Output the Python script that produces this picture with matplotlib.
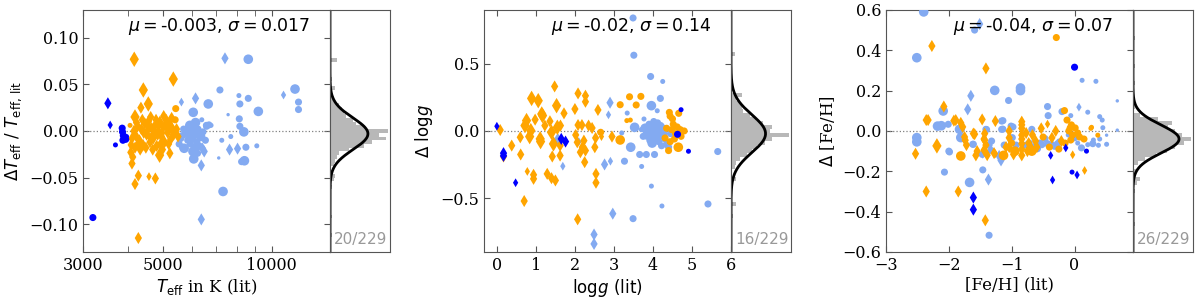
import numpy as np
import matplotlib
matplotlib.use("Agg")
import matplotlib.pyplot as plt
from matplotlib.ticker import FixedLocator, LogLocator, NullFormatter, FuncFormatter

plt.rcParams['font.family'] = 'DejaVu Serif'
plt.rcParams['mathtext.fontset'] = 'dejavusans'
plt.rcParams['font.size'] = 11

N_STARS = 229

# ---------------- Teff panel: (Teff_lit, dTeff/Teff_lit, size class) ----------------
TEFF_LIGHT_CIRC = [
    (8610, 0.077, 4), (7185, 0.044, 3), (11600, 0.045, 4), (11860, 0.031, 3), (11860, 0.023, 3),
    (6670, 0.029, 4), (8110, 0.038, 2), (8610, 0.035, 3), (8160, 0.029, 3), (9180, 0.021, 4),
    (7570, 0.0175, 1), (6060, 0.020, 4), (8130, 0.013, 3), (8160, 0.005, 3), (8370, -0.001, 4),
    (7700, -0.006, 2), (6790, 0.006, 2), (6600, 0.005, 3), (7270, -0.010, 2), (8480, -0.0175, 3),
    (9090, -0.016, 2), (7130, -0.029, 1), (8400, -0.032, 4), (8250, -0.033, 3), (6080, -0.030, 4),
    (6050, -0.022, 4), (7330, -0.065, 4), (5660, -0.0175, 3), (5930, 0.006, 4), (6150, 0.009, 4),
    (6590, 0.006, 3), (6700, 0.0065, 3), (5540, -0.014, 3), (5720, -0.0186, 4), (6080, -0.029, 3),
    (5800, 0.000, 4), (5900, -0.004, 4), (6000, -0.008, 4), (6100, -0.003, 4), (6200, -0.012, 3),
    (6250, 0.002, 3), (6350, -0.006, 4), (6300, -0.016, 3), (5650, -0.005, 3), (5700, 0.002, 3),
    (6450, -0.001, 3), (6150, -0.018, 4), (5850, -0.010, 3), (6400, 0.012, 2), (6550, -0.010, 3),
    (6000, 0.004, 4), (5600, -0.008, 3), (6230, -0.024, 3), (5950, -0.014, 3),
]
TEFF_LIGHT_DIAM = [
    (7420, 0.078, 3), (10780, 0.0386, 2), (6150, 0.035, 3), (5620, 0.031, 2), (7640, -0.020, 3),
    (8040, -0.019, 3), (6430, -0.019, 3), (6380, -0.037, 3), (6380, -0.095, 3), (6500, -0.022, 3),
]
TEFF_ORANGE_DIAM = [
    (4160, 0.077, 4), (5337, 0.0557, 4), (4408, 0.044, 4), (4341, 0.025, 3), (4550, 0.029, 4),
    (4180, 0.015, 4), (4070, -0.023, 3), (4100, -0.035, 3), (4890, -0.026, 4), (5220, -0.024, 3),
    (4270, -0.048, 3), (4180, -0.057, 3), (4570, -0.049, 2), (4760, -0.051, 3), (4270, -0.115, 3),
    (4120, -0.028, 3), (4080, -0.015, 3),
    (4150, 0.000, 3), (4200, -0.005, 3), (4250, 0.005, 3), (4300, -0.010, 3), (4350, 0.002, 3),
    (4400, -0.015, 3), (4450, 0.008, 3), (4500, -0.004, 3), (4550, 0.010, 3), (4600, -0.012, 3),
    (4650, 0.003, 3), (4700, -0.008, 3), (4750, 0.006, 3), (4800, -0.016, 3), (4850, 0.000, 3),
    (4900, 0.010, 3), (4950, -0.006, 3), (5000, 0.004, 3), (5050, -0.012, 3), (5100, 0.012, 3),
    (5150, -0.002, 3), (5200, 0.008, 3), (5250, -0.009, 3), (5300, 0.003, 3), (5350, -0.004, 3),
    (5450, 0.002, 3), (5500, -0.006, 3), (4100, -0.008, 3), (4180, -0.018, 3), (4220, 0.009, 3),
    (4320, -0.020, 3), (4380, 0.012, 3), (4480, -0.018, 3), (4520, 0.000, 3), (4620, 0.015, 3),
    (4680, -0.020, 3), (4780, 0.012, 3), (4830, -0.004, 3), (4920, -0.014, 3), (5020, 0.016, 3),
    (5120, 0.004, 3), (5180, -0.014, 3), (5280, 0.014, 3), (4420, -0.002, 3), (4720, -0.002, 3),
    (4980, -0.020, 3), (5060, 0.006, 3), (4260, -0.014, 3), (4560, 0.005, 3), (4860, 0.007, 3),
]
TEFF_ORANGE_CIRC = [
    (4050, 0.006, 2), (5420, 0.024, 3), (5400, 0.012, 3), (4950, -0.002, 3), (5300, 0.001, 3),
    (4600, -0.006, 3), (5150, 0.008, 3),
]
TEFF_BLUE_CIRC = [
    (3195, -0.093, 3), (3690, -0.015, 2), (3852, 0.003, 3), (3860, -0.001, 3), (3880, -0.005, 3),
    (3900, -0.008, 3), (3940, -0.009, 3), (3870, -0.010, 3), (3960, -0.006, 2),
]
TEFF_BLUE_DIAM = [(3516, 0.0297, 3), (3568, 0.0064, 2)]

# ---------------- logg panel: (logg_lit, dlogg, size class) ----------------
LOGG_LIGHT_CIRC = [
    (3.49, 0.84, 3), (3.51, 0.563, 3), (3.94, 0.405, 3), (4.25, 0.368, 2), (3.34, 0.133, 2),
    (4.19, 0.242, 3), (3.96, 0.188, 4), (4.11, 0.15, 2), (3.53, 0.027, 4), (3.77, 0.089, 2),
    (3.43, -0.121, 4), (3.66, -0.175, 3), (3.83, -0.175, 3), (4.04, -0.175, 3), (3.27, -0.225, 3),
    (3.71, -0.264, 2), (3.96, -0.41, 2), (4.23, -0.558, 2), (5.41, -0.543, 3), (5.66, -0.153, 3),
    (3.49, -0.652, 3), (3.20, -0.015, 2),
    (3.80, 0.02, 4), (3.85, -0.03, 4), (3.90, 0.05, 3), (3.95, -0.01, 4), (4.00, 0.03, 4),
    (4.05, -0.05, 4), (4.10, 0.00, 4), (4.15, -0.08, 3), (4.20, 0.04, 3), (4.25, -0.02, 4),
    (4.30, -0.06, 3), (3.92, -0.07, 3), (4.02, 0.07, 3), (4.12, 0.06, 3), (3.75, -0.04, 3),
    (4.35, -0.10, 3), (4.22, -0.11, 3), (3.98, -0.09, 4), (4.08, 0.02, 4), (3.88, 0.01, 3),
    (4.28, 0.02, 3), (4.18, -0.03, 4), (4.40, -0.12, 3), (3.70, 0.01, 2), (4.45, -0.02, 3),
]
LOGG_LIGHT_DIAM = [
    (2.90, 0.21, 3), (2.86, 0.12, 2), (2.76, -0.249, 3), (2.91, -0.225, 2), (1.69, -0.262, 2),
    (1.56, -0.059, 3), (2.49, -0.77, 3), (2.49, -0.84, 3), (2.97, -0.615, 3), (2.10, -0.079, 2),
]
LOGG_ORANGE_DIAM = [
    (1.48, 0.331, 3), (0.89, 0.242, 4), (1.06, 0.225, 4), (2.08, 0.279, 3), (2.27, 0.262, 3),
    (2.27, 0.217, 3), (1.53, 0.188, 4), (1.15, 0.126, 4), (1.17, 0.114, 4), (0.98, 0.084, 3),
    (0.76, 0.077, 4), (0.72, 0.04, 4), (1.72, 0.131, 3), (2.00, 0.163, 3), (2.59, 0.156, 3),
    (1.36, 0.072, 3), (1.23, 0.04, 3), (1.55, 0.027, 4), (1.63, 0.04, 3), (1.40, -0.01, 4),
    (0.87, 0.002, 4), (0.60, -0.047, 3), (0.38, -0.109, 3), (0.085, 0.007, 3), (0.84, -0.042, 4),
    (1.11, -0.059, 4), (1.12, -0.079, 4), (1.45, -0.096, 4), (1.62, -0.109, 3), (1.62, -0.183, 3),
    (1.42, -0.19, 3), (0.61, -0.175, 3), (0.78, -0.301, 2), (0.94, -0.326, 3), (0.94, -0.356, 3),
    (1.29, -0.319, 3), (1.40, -0.351, 3), (1.50, -0.368, 3), (0.70, -0.521, 3), (2.08, 0.044, 3),
    (2.18, 0.044, 3), (2.35, 0.04, 3), (2.44, 0.022, 3), (2.53, -0.052, 3), (2.51, -0.121, 3),
    (2.02, -0.03, 3), (2.06, -0.084, 3), (2.19, -0.121, 3), (2.23, -0.072, 3), (2.27, -0.146, 3),
    (2.14, -0.158, 3), (2.25, -0.232, 3), (2.54, -0.319, 3), (2.54, -0.385, 3), (2.95, -0.042, 3),
    (2.07, -0.657, 3), (2.68, -0.042, 2), (0.17, -0.19, 3),
]
LOGG_ORANGE_CIRC = [
    (3.16, 0.195, 3), (3.40, 0.254, 3), (3.69, 0.257, 3), (3.57, 0.193, 3), (3.33, 0.077, 2),
    (3.42, 0.081, 2), (3.16, -0.067, 4), (4.42, 0.138, 3), (4.44, 0.11, 3), (4.50, 0.09, 3),
    (4.52, 0.05, 3), (4.35, 0.02, 3), (4.48, 0.01, 3), (4.62, 0.03, 3), (4.70, 0.01, 3),
    (4.80, 0.00, 3), (4.31, -0.052, 3), (4.44, -0.08, 3), (4.55, -0.06, 3), (4.65, -0.121, 4),
    (4.40, -0.146, 3), (4.66, 0.131, 3), (2.66, -0.01, 3), (4.58, -0.02, 3), (4.72, -0.04, 3),
]
LOGG_BLUE_CIRC = [(4.72, 0.158, 2), (4.63, -0.025, 3), (4.91, -0.151, 2)]
LOGG_BLUE_DIAM = [
    (0.0, 0.035, 2), (0.17, -0.165, 3), (0.17, -0.185, 3), (0.48, -0.385, 2), (1.65, -0.059, 3),
    (1.76, -0.079, 3),
]

# ---------------- [Fe/H] panel: (feh_lit, dfeh, size class) ----------------
FEH_LIGHT_CIRC = [
    (-2.40, 0.59, 4), (-1.59, 0.50, 3), (-2.51, 0.363, 4), (-1.27, 0.201, 4), (-0.86, 0.213, 4),
    (-0.86, 0.200, 4), (-1.05, 0.151, 3), (-2.09, 0.099, 4), (-2.18, 0.024, 4), (-2.12, 0.026, 4),
    (-2.01, 0.033, 3), (-2.51, -0.033, 4), (-2.51, -0.054, 4), (-2.0, -0.10, 3), (-2.07, -0.204, 3),
    (-1.83, 0.008, 4), (-1.81, -0.033, 4), (-1.62, -0.066, 3), (-1.47, -0.116, 3), (-1.41, 0.008, 3),
    (-1.46, -0.193, 3), (-1.67, -0.255, 4), (-1.36, -0.517, 3), (-1.16, 0.049, 3), (-1.16, 0.008, 3),
    (-1.01, 0.024, 3), (-0.99, -0.033, 3), (-1.32, -0.05, 3), (-1.36, -0.07, 3), (-0.68, 0.008, 3),
    (-0.59, -0.088, 3), (-0.47, -0.038, 3), (-0.43, 0.121, 3), (-0.42, 0.076, 3), (-0.43, -0.063, 3),
    (-0.36, -0.068, 3), (-0.32, -0.076, 3), (-0.27, -0.063, 3), (-0.20, 0.096, 3), (-0.06, 0.076, 2),
    (0.12, 0.251, 2), (0.21, 0.093, 2), (0.34, 0.246, 2), (0.0, -0.034, 3), (0.11, -0.084, 3),
    (0.21, -0.068, 2), (0.29, -0.063, 3), (0.38, -0.071, 2), (0.40, 0.071, 2), (0.44, 0.054, 2),
    (0.45, 0.016, 2), (0.51, -0.066, 2), (0.68, 0.149, 1), (0.68, 0.004, 1), (0.51, -0.021, 1),
    (-0.52, -0.068, 3), (-0.77, -0.07, 3), (-0.72, -0.06, 3), (-0.93, -0.07, 3), (-1.14, 0.051, 3),
    (-1.14, 0.009, 3), (-1.80, 0.009, 3), (-1.40, 0.007, 3), (-1.99, -0.104, 3), (-1.61, -0.066, 3),
    (-1.33, -0.096, 3), (-1.12, -0.07, 3), (-0.98, 0.02, 3), (-0.70, -0.08, 3), (-0.55, -0.06, 3),
    (-0.62, -0.075, 3), (-0.25, -0.05, 2), (0.30, -0.045, 2), (0.40, -0.04, 2), (0.05, -0.06, 2),
    (-0.10, -0.02, 2),
]
FEH_LIGHT_DIAM = [
    (-1.51, 0.53, 3), (-1.65, 0.174, 3), (-1.70, 0.107, 3), (-1.37, -0.241, 3), (-1.20, -0.124, 3),
    (0.07, 0.118, 2), (-1.46, -0.116, 2), (-1.17, -0.146, 3),
]
FEH_ORANGE_DIAM = [
    (-2.27, 0.421, 3), (-1.41, 0.31, 3), (-2.36, 0.054, 3), (-2.53, -0.113, 3), (-2.36, -0.30, 3),
    (-2.19, -0.074, 4), (-2.08, 0.121, 3), (-1.92, 0.051, 3), (-1.81, 0.04, 3), (-1.78, 0.02, 3),
    (-1.74, -0.046, 3), (-1.61, -0.013, 3), (-1.57, -0.121, 3), (-1.47, 0.057, 3), (-1.44, -0.04, 3),
    (-1.41, -0.07, 3), (-1.44, -0.095, 3), (-1.39, -0.12, 3), (-1.26, 0.049, 3), (-1.28, -0.11, 3),
    (-1.04, 0.0, 3), (-1.09, -0.08, 3), (-1.04, -0.08, 3), (-0.97, -0.116, 3), (-0.84, 0.046, 3),
    (-0.84, 0.013, 3), (-0.84, -0.021, 3), (-0.84, -0.063, 3), (-0.84, -0.121, 3), (-0.77, -0.01, 3),
    (-0.73, -0.06, 3), (-0.75, -0.10, 3), (-0.70, -0.08, 3), (-0.67, -0.02, 3), (-0.62, -0.05, 3),
    (-0.60, -0.08, 3), (-0.53, 0.013, 3), (-0.43, 0.034, 2), (-0.36, -0.034, 3), (-0.30, 0.0, 3),
    (-0.21, -0.05, 3), (-0.03, -0.118, 2), (0.16, -0.196, 2), (-1.42, -0.443, 3), (-1.85, -0.30, 3),
    (-1.89, 0.054, 3), (-2.33, 0.054, 3), (-1.59, -0.016, 3), (-1.43, -0.013, 3), (-1.43, -0.046, 3),
    (-1.26, -0.113, 2), (-1.04, -0.034, 3), (-1.75, -0.03, 3), (-1.72, -0.07, 3), (-1.55, -0.10, 3),
    (-0.84, 0.03, 3), (-0.84, -0.04, 3), (-0.84, -0.09, 3),
]
FEH_ORANGE_CIRC = [
    (-0.29, 0.463, 3), (-1.81, -0.124, 4), (-1.13, -0.121, 4), (-0.16, 0.101, 3), (-0.12, 0.054, 3),
    (-0.09, 0.0, 3), (-0.05, 0.03, 3), (-0.07, 0.015, 3), (-0.03, -0.02, 3), (-0.06, -0.045, 3),
    (0.01, 0.015, 3), (0.05, -0.01, 3), (0.08, -0.03, 3), (0.26, 0.013, 2), (0.37, -0.021, 2),
    (0.27, 0.018, 2), (-0.68, -0.10, 4), (-0.95, -0.10, 4), (-0.50, -0.03, 3), (-0.25, -0.09, 3),
    (-0.40, -0.08, 3), (-1.00, -0.06, 3), (0.15, -0.04, 3), (-0.15, -0.06, 3),
]
FEH_BLUE_CIRC = [(0.0, 0.316, 3), (-0.04, -0.204, 2), (0.19, -0.10, 2)]
FEH_BLUE_DIAM = [
    (-0.38, -0.121, 2), (-0.14, -0.084, 2), (-0.35, -0.243, 2), (0.04, -0.218, 2), (-1.61, -0.33, 3),
    (-1.61, -0.39, 3),
]

# ---------------- side histograms (bin centre, count) ----------------
HIST_TEFF_BIN = 0.004
HIST_TEFF_C = [0.076, 0.056, 0.046, 0.040, 0.036, 0.032, 0.028, 0.024, 0.020, 0.016, 0.012, 0.008,
               0.004, 0.000, -0.004, -0.008, -0.012, -0.016, -0.020, -0.024, -0.028, -0.032,
               -0.036, -0.044, -0.048, -0.052, -0.060, -0.092, -0.112]
HIST_TEFF_N = [4, 1, 3, 1, 2, 2, 5, 7, 8, 9, 13, 15, 20, 33, 28, 32, 24, 19, 11, 5, 4, 3, 2, 1, 3, 2,
               1, 1, 1]
HIST_LOGG_BIN = 0.03
HIST_LOGG_C = [0.57, 0.27, 0.24, 0.21, 0.18, 0.15, 0.12, 0.09, 0.06, 0.03, 0.00, -0.03, -0.06,
               -0.09, -0.12, -0.15, -0.18, -0.21, -0.24, -0.27, -0.36, -0.54, -0.63]
HIST_LOGG_N = [2, 6, 3, 5, 6, 7, 11, 14, 18, 23, 22, 33, 23, 19, 15, 12, 9, 5, 3, 2, 3, 3, 1]
HIST_FEH_BIN = 0.02
HIST_FEH_C = [0.46, 0.32, 0.24, 0.12, 0.08, 0.06, 0.04, 0.02, 0.00, -0.02, -0.04, -0.06, -0.08,
              -0.10, -0.12, -0.14, -0.16, -0.20, -0.24, -0.26, -0.30, -0.46]
HIST_FEH_N = [1, 1, 1, 1, 4, 14, 22, 20, 24, 28, 33, 29, 24, 19, 13, 7, 3, 2, 4, 2, 1, 1]

# fit statistics and number of stars outside the plotted range
STATS = [(-0.003, 0.017, 20, "-0.003", "0.017"),
         (-0.02, 0.14, 16, "-0.02", "0.14"),
         (-0.04, 0.07, 26, "-0.04", "0.07")]

LIGHT = '#83aaf1'
ORANGE = '#ffa500'
BLUE = '#0000ff'
SPINE = '#555555'
CIRC_SIZE = {1: 6, 2: 13, 3: 26, 4: 48}
DIAM_SIZE = {1: 10, 2: 20, 3: 38, 4: 62}

fig = plt.figure(figsize=(12, 3), dpi=100)
BOTTOM, HEIGHT = 0.16, 0.807
MAIN_W, HIST_W = 247 / 1200, 60 / 1200
LEFTS = [83 / 1200, 484 / 1200, 886 / 1200]


def scatter_groups(ax, groups):
    for pts, color, marker in groups:
        a = np.array(pts, dtype=float)
        sizes = [(CIRC_SIZE if marker == 'o' else DIAM_SIZE)[int(k)] for k in a[:, 2]]
        ax.scatter(a[:, 0], a[:, 1], s=sizes, c=color, marker=marker, linewidths=0, zorder=3)


def style(ax):
    for sp in ax.spines.values():
        sp.set_color(SPINE)
    ax.tick_params(which='both', direction='in', top=True, right=True, length=4,
                   color=SPINE, labelsize=11.5)


def panel(i, groups, xlim, ylim, xlabel, ylabel, xticks, yticks, hc, hn, bw, logx=False):
    mu, sigma, n_out, mu_s, sig_s = STATS[i]
    ax = fig.add_axes([LEFTS[i], BOTTOM, MAIN_W, HEIGHT])
    if logx:
        ax.set_xscale('log')
    scatter_groups(ax, groups)
    ax.axhline(0, color='gray', lw=0.9, ls=':', zorder=2)
    ax.set_xlim(*xlim)
    ax.set_ylim(*ylim)
    ax.set_yticks(yticks)
    if logx:
        ax.xaxis.set_major_locator(FixedLocator(xticks))
        ax.xaxis.set_major_formatter(FuncFormatter(lambda v, _: f"{v:.0f}"))
        ax.xaxis.set_minor_locator(LogLocator(subs=np.arange(2, 10)))
        ax.xaxis.set_minor_formatter(NullFormatter())
    else:
        ax.set_xticks(xticks)
    ax.set_xlabel(xlabel, fontsize=12, labelpad=2)
    ax.set_ylabel(ylabel, fontsize=12, labelpad=4)
    style(ax)
    ax.text(0.92, 0.93, r"$\mu=$" + mu_s + ", " + r"$\sigma=$" + sig_s, transform=ax.transAxes,
            ha='right', va='center', fontsize=12.5, family='DejaVu Sans')

    hax = fig.add_axes([LEFTS[i] + MAIN_W, BOTTOM, HIST_W, HEIGHT])
    hax.barh(hc, hn, height=bw, color='#b8b8b8', linewidth=0)
    yy = np.linspace(ylim[0], ylim[1], 400)
    gauss = N_STARS * bw * np.exp(-0.5 * ((yy - mu) / sigma) ** 2) / (sigma * np.sqrt(2 * np.pi))
    hax.plot(gauss, yy, color='black', lw=2)
    hax.set_xlim(0, 34)
    hax.set_ylim(*ylim)
    hax.set_xticks([])
    hax.set_yticks([])
    for sp in hax.spines.values():
        sp.set_color(SPINE)
    hax.text(0.96, 0.02, f"{n_out}/{N_STARS}", transform=hax.transAxes, ha='right', va='bottom',
             color='#999999', fontsize=11, family='DejaVu Sans')


panel(0,
      [(TEFF_LIGHT_CIRC, LIGHT, 'o'), (TEFF_LIGHT_DIAM, LIGHT, 'd'),
       (TEFF_ORANGE_DIAM, ORANGE, 'd'), (TEFF_ORANGE_CIRC, ORANGE, 'o'),
       (TEFF_BLUE_CIRC, BLUE, 'o'), (TEFF_BLUE_DIAM, BLUE, 'd')],
      (3000, 14500), (-0.13, 0.13),
      r"$T_\mathrm{eff}$ in K (lit)", r"$\Delta T_\mathrm{eff}\ /\ T_\mathrm{eff,\,lit}$",
      [3000, 5000, 10000], [-0.10, -0.05, 0.0, 0.05, 0.10],
      HIST_TEFF_C, HIST_TEFF_N, HIST_TEFF_BIN, logx=True)

panel(1,
      [(LOGG_LIGHT_CIRC, LIGHT, 'o'), (LOGG_LIGHT_DIAM, LIGHT, 'd'),
       (LOGG_ORANGE_DIAM, ORANGE, 'd'), (LOGG_ORANGE_CIRC, ORANGE, 'o'),
       (LOGG_BLUE_CIRC, BLUE, 'o'), (LOGG_BLUE_DIAM, BLUE, 'd')],
      (-0.33, 6.0), (-0.9, 0.9),
      r"$\mathrm{log}g\ \mathrm{(lit)}$", r"$\Delta\ \mathrm{log}g$",
      [0, 1, 2, 3, 4, 5, 6], [-0.5, 0.0, 0.5],
      HIST_LOGG_C, HIST_LOGG_N, HIST_LOGG_BIN)

panel(2,
      [(FEH_LIGHT_CIRC, LIGHT, 'o'), (FEH_LIGHT_DIAM, LIGHT, 'd'),
       (FEH_ORANGE_DIAM, ORANGE, 'd'), (FEH_ORANGE_CIRC, ORANGE, 'o'),
       (FEH_BLUE_CIRC, BLUE, 'o'), (FEH_BLUE_DIAM, BLUE, 'd')],
      (-3.0, 0.93), (-0.6, 0.6),
      "[Fe/H] (lit)", r"$\Delta$ [Fe/H]",
      [-3, -2, -1, 0], [-0.6, -0.4, -0.2, 0.0, 0.2, 0.4, 0.6],
      HIST_FEH_C, HIST_FEH_N, HIST_FEH_BIN)

fig.savefig("out.png", dpi=100)
